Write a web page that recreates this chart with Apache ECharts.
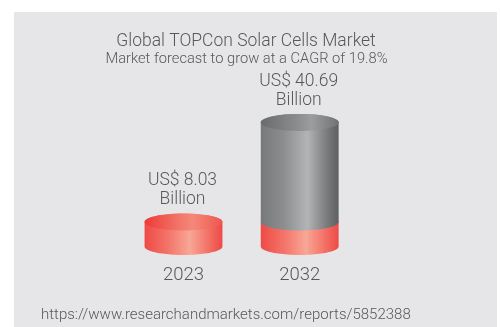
<!DOCTYPE html>
<html>
<head>
<meta charset="utf-8">
<script src="https://cdn.jsdelivr.net/npm/echarts@6/dist/echarts.min.js"></script>
<style>
  html, body { margin: 0; padding: 0; background: #ffffff; }
  #chart { width: 500px; height: 327px; }
</style>
</head>
<body>
<div id="chart"></div>
<script>
// Market size, US$ billion
const years = ['2023', '2032'];
const marketValues = [8.03, 40.69];
// The 2023 level, shown as the red base of every cylinder
const baseValue = 8.03;

const titleText = 'Global TOPCon Solar Cells Market';
const subtitleText = 'Market forecast to grow at a CAGR of 19.8%';
const sourceText = 'https://www.researchandmarkets.com/reports/5852388';

const FONT = 'Roboto, "Liberation Sans", Arial, sans-serif';
const WEIGHT = '300';
const TEXT_COLOR = '#58585a';

function font(size) {
  return WEIGHT + ' ' + size + 'px ' + FONT;
}

function hGrad(stops) {
  return new echarts.graphic.LinearGradient(0, 0, 1, 0,
    stops.map(function (s) { return { offset: s[0], color: s[1] }; }));
}

// Points along an ellipse from angle a0 to a1 (screen coordinates, y down)
function arcPoints(cx, cy, rx, ry, a0, a1, n) {
  const pts = [];
  for (let i = 0; i <= n; i++) {
    const t = a0 + (a1 - a0) * i / n;
    pts.push([cx + rx * Math.cos(t), cy + ry * Math.sin(t)]);
  }
  return pts;
}

// Side of a cylinder between yTop and yBot, with a rounded lower edge
function bodyPoints(cx, yTop, yBot, rx, ry) {
  return []
    .concat(arcPoints(cx, yBot, rx, ry, Math.PI, 0, 48))
    .concat(arcPoints(cx, yTop, rx, ry, 0, -Math.PI, 48));
}

const redBody = [[0, '#ef4a45'], [0.3, '#f3746a'], [0.58, '#f8a796'], [0.85, '#f26a60'], [1, '#ee4a46']];
const redTop = [[0, '#ef3a37'], [0.45, '#f2766a'], [0.62, '#f4887a'], [1, '#f0564d']];
const grayBody = [[0, '#77787a'], [0.3, '#8d8e90'], [0.6, '#b3b4b6'], [0.85, '#7a7b7d'], [1, '#5e5f61']];
const grayTop = [[0, '#6a6b6d'], [0.5, '#8e8f91'], [0.65, '#9c9d9f'], [1, '#717274']];

function renderCylinder(params, api) {
  const idx = params.dataIndex;
  const value = api.value(1);
  const base = Math.min(value, baseValue);
  const p0 = api.coord([idx, 0]);
  const p1 = api.coord([idx, base]);
  const p2 = api.coord([idx, value]);
  const cx = p0[0];
  const rx = api.size([1, 0])[0] * 0.335;
  const ry = 8.5;
  const children = [];

  // red base
  children.push({
    type: 'polygon',
    shape: { points: bodyPoints(cx, p1[1], p0[1], rx, ry) },
    style: { fill: hGrad(redBody) }
  });
  let topColor = redTop;
  if (value > base) {
    // gray growth segment stacked on the base
    children.push({
      type: 'polygon',
      shape: { points: bodyPoints(cx, p2[1], p1[1], rx, ry) },
      style: { fill: hGrad(grayBody) }
    });
    topColor = grayTop;
  }
  // top face
  children.push({
    type: 'polygon',
    shape: { points: arcPoints(cx, p2[1], rx, ry, 0, 2 * Math.PI, 96) },
    style: { fill: hGrad(topColor) }
  });
  // value label above the cylinder
  children.push({
    type: 'text',
    x: cx - 1,
    y: p2[1] - ry - 4,
    style: {
      text: 'US$ ' + value.toFixed(2) + '\nBillion',
      font: font(17.5),
      fill: TEXT_COLOR,
      align: 'center',
      verticalAlign: 'bottom',
      lineHeight: 19
    }
  });
  return { type: 'group', children: children };
}

const chart = echarts.init(document.getElementById('chart'), null, { renderer: 'canvas' });

chart.setOption({
  animation: false,
  backgroundColor: '#ffffff',
  graphic: [
    {
      type: 'rect', z: -10, silent: true,
      shape: { x: 14, y: 12, width: 483, height: 315 },
      style: { fill: '#e6e6e8' }
    },
    {
      type: 'text', x: 246, y: 41.5,
      style: { text: titleText, font: font(17.5), fill: TEXT_COLOR, align: 'center', verticalAlign: 'middle' }
    },
    {
      type: 'text', x: 246.5, y: 59.8,
      style: { text: subtitleText, font: font(14.7), fill: TEXT_COLOR, align: 'center', verticalAlign: 'middle' }
    },
    {
      type: 'text', x: 41, y: 315.5,
      style: { text: sourceText, font: font(15), fill: TEXT_COLOR, align: 'left', verticalAlign: 'middle' }
    }
  ],
  grid: { left: 125.4, right: 142.2, top: 94, bottom: 80.5 },
  xAxis: {
    type: 'category',
    data: years,
    axisLine: { show: false },
    axisTick: { show: false },
    splitLine: { show: false },
    axisLabel: { margin: 19, fontSize: 18.5, fontWeight: WEIGHT, fontFamily: FONT, color: TEXT_COLOR }
  },
  yAxis: {
    type: 'value', min: 0, max: 50, show: false
  },
  series: [{
    type: 'custom',
    renderItem: renderCylinder,
    data: years.map(function (y, i) { return [i, marketValues[i]]; }),
    encode: { x: 0, y: 1 }
  }]
});
</script>
</body>
</html>
